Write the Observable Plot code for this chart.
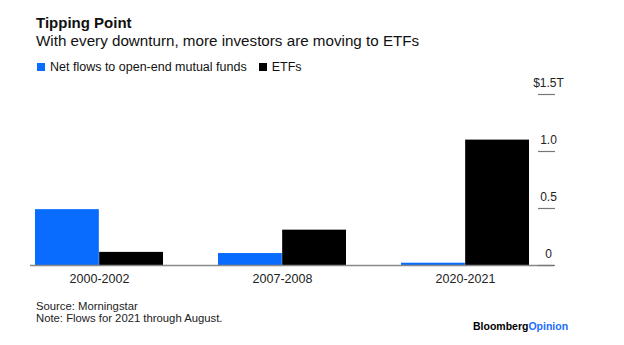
<!DOCTYPE html>
<html>
<head>
<meta charset="utf-8">
<script src="https://cdn.jsdelivr.net/npm/d3@7"></script>
<script src="https://cdn.jsdelivr.net/npm/@observablehq/plot@0.6"></script>
<style>
  html, body { margin: 0; padding: 0; background: #fff; }
  #wrap { position: relative; width: 624px; height: 345px; overflow: hidden; font-family: "Liberation Sans", Arial, sans-serif; color: #111; }
  .t { position: absolute; white-space: nowrap; line-height: 1; }
  #title { left: 36px; top: 15px; font-size: 15px; font-weight: bold; }
  #subtitle { left: 36px; top: 33px; font-size: 15.2px; }
  #legend { left: 37px; top: 61px; font-size: 12.5px; display: flex; align-items: center; }
  .sw { display: inline-block; width: 8px; height: 8px; margin-right: 5px; }
  .item { display: inline-flex; align-items: center; margin-right: 12px; }
  #source { left: 36px; top: 300.5px; font-size: 11.3px; color: #222; }
  #note { left: 36px; top: 312.5px; font-size: 11.3px; color: #222; }
  #brand { left: 473px; top: 321px; font-size: 10.5px; font-weight: bold; color: #000; }
  #brand span { color: #1a6cff; }
  #chart { position: absolute; left: 0; top: 60px; }
</style>
</head>
<body>
<div id="wrap">
  <div class="t" id="title">Tipping Point</div>
  <div class="t" id="subtitle">With every downturn, more investors are moving to ETFs</div>
  <div class="t" id="legend"></div>
  <div id="chart"></div>
  <div class="t" id="source">Source: Morningstar</div>
  <div class="t" id="note">Note: Flows for 2021 through August.</div>
  <div class="t" id="brand">Bloomberg<span>Opinion</span></div>
</div>
<script>
const periods = ["2000-2002", "2007-2008", "2020-2021"];
const mutualFunds = [0.49, 0.105, 0.02];
const etfs = [0.115, 0.31, 1.10];
const seriesNames = ["Net flows to open-end mutual funds", "ETFs"];
const seriesColors = ["#0a6cff", "#000000"];
const yTicks = [0, 0.5, 1.0, 1.5];
const yTickLabels = ["0", "0.5", "1.0", "$1.5T"];

// legend
const legend = document.getElementById("legend");
seriesNames.forEach((name, i) => {
  const item = document.createElement("span");
  item.className = "item";
  const sw = document.createElement("span");
  sw.className = "sw";
  sw.style.background = seriesColors[i];
  item.appendChild(sw);
  item.appendChild(document.createTextNode(name));
  legend.appendChild(item);
});

const mfRows = periods.map((p, i) => ({period: p, series: seriesNames[0], value: mutualFunds[i]}));
const etfRows = periods.map((p, i) => ({period: p, series: seriesNames[1], value: etfs[i]}));

const W = 624, H = 235, mL = 35, mR = 94, padIn = 0.3;
const step = (W - mL - mR) / (periods.length - padIn);
const half = step * (1 - padIn) / 2;

const chart = Plot.plot({
  width: W,
  height: H,
  marginTop: 34,
  marginBottom: 30,
  marginLeft: mL,
  marginRight: mR,
  style: {fontFamily: "'Liberation Sans', Arial, sans-serif", fontSize: "12px", color: "#222", background: "transparent", overflow: "visible"},
  x: {domain: periods, paddingInner: padIn, paddingOuter: 0, align: 0.5},
  y: {domain: [0, 1.5]},
  color: {domain: seriesNames, range: seriesColors},
  marks: [
    Plot.barY(mfRows, {x: "period", y: "value", fill: "series", insetRight: half}),
    Plot.barY(etfRows, {x: "period", y: "value", fill: "series", insetLeft: half}),
    Plot.ruleY([0], {stroke: "#888", strokeWidth: 1.5, insetLeft: -5, insetRight: -24}),
    Plot.axisY(yTicks, {anchor: "right", tickSize: 17, dx: 7, fill: "none", stroke: "#777", strokeWidth: 1.2, label: null}),
    Plot.axisY(yTicks, {anchor: "right", tickSize: 0, tickPadding: 0, dx: 18, dy: -11, textAnchor: "middle",
      tickFormat: d => yTickLabels[yTicks.indexOf(d)], label: null, fill: "#222", fontSize: 12}),
    Plot.axisX({tickSize: 0, tickPadding: 9, label: null, fontSize: 12.5, fill: "#222"})
  ]
});
document.getElementById("chart").appendChild(chart);
</script>
</body>
</html>
